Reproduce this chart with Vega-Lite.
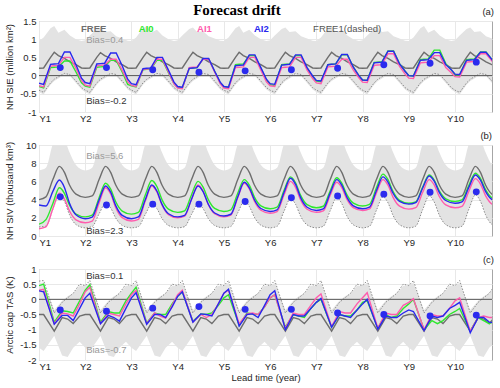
{
  "$schema": "https://vega.github.io/schema/vega-lite/v6.json",
  "padding": {"left": 3, "top": 3, "right": 0, "bottom": 0},
  "title": {"text": "Forecast drift", "font": "Liberation Serif", "fontSize": 15, "fontWeight": "bold", "color": "#000000", "anchor": "middle", "dx": -12, "offset": -12},
  "config": {
    "font": "Liberation Sans",
    "view": {"stroke": "#a6a6a6", "strokeWidth": 1},
    "axis": {"labelFont": "Liberation Sans", "labelFontSize": 9.5, "labelColor": "#262626", "titleFont": "Liberation Sans", "titleFontSize": 9.5, "titleFontWeight": "normal", "titleColor": "#262626", "ticks": false, "domain": false, "gridColor": "#e8e8e8", "labelPadding": 3},
    "axisX": {"labelPadding": 1}
  },
  "datasets": {
    "A": [
      {"t":0,"FREE":0.2,"AI0":-0.3,"AI1":-0.28,"AI2":-0.21,"lo":-0.45,"hi":0.95,"d":-0.4},
      {"t":0.1,"FREE":0.21,"AI0":-0.34,"AI1":-0.31,"AI2":-0.24,"lo":-0.52,"hi":1.05,"d":-0.46},
      {"t":0.25,"FREE":0.5,"AI0":0.22,"AI1":0.26,"AI2":0.31,"lo":-0.25,"hi":1.3,"d":-0.2},
      {"t":0.33,"FREE":0.64,"AI0":0.23,"AI1":0.27,"AI2":0.32,"lo":-0.15,"hi":1.36,"d":-0.1},
      {"t":0.42,"FREE":0.55,"AI0":0.24,"AI1":0.28,"AI2":0.33,"lo":-0.08,"hi":1.18,"d":-0.03},
      {"t":0.55,"FREE":0.47,"AI0":0.4,"AI1":0.5,"AI2":0.65,"lo":0.02,"hi":1.26,"d":0.06},
      {"t":0.67,"FREE":0.38,"AI0":0.4,"AI1":0.5,"AI2":0.65,"lo":-0.02,"hi":1.1,"d":0.03},
      {"t":0.8,"FREE":0.3,"AI0":0.1,"AI1":0.2,"AI2":0.3,"lo":-0.2,"hi":1.0,"d":-0.15},
      {"t":0.92,"FREE":0.21,"AI0":-0.2,"AI1":-0.14,"AI2":-0.07,"lo":-0.38,"hi":0.95,"d":-0.33},
      {"t":1,"FREE":0.2,"AI0":-0.29,"AI1":-0.26,"AI2":-0.19,"lo":-0.45,"hi":0.97,"d":-0.4},
      {"t":1.1,"FREE":0.21,"AI0":-0.32,"AI1":-0.29,"AI2":-0.22,"lo":-0.52,"hi":1.1,"d":-0.46},
      {"t":1.25,"FREE":0.5,"AI0":0.23,"AI1":0.27,"AI2":0.32,"lo":-0.25,"hi":1.28,"d":-0.2},
      {"t":1.33,"FREE":0.63,"AI0":0.24,"AI1":0.28,"AI2":0.33,"lo":-0.15,"hi":1.32,"d":-0.1},
      {"t":1.42,"FREE":0.55,"AI0":0.25,"AI1":0.29,"AI2":0.34,"lo":-0.08,"hi":1.2,"d":-0.03},
      {"t":1.55,"FREE":0.47,"AI0":0.42,"AI1":0.45,"AI2":0.62,"lo":0.02,"hi":1.22,"d":0.06},
      {"t":1.67,"FREE":0.38,"AI0":0.42,"AI1":0.45,"AI2":0.62,"lo":-0.02,"hi":1.08,"d":0.03},
      {"t":1.8,"FREE":0.3,"AI0":0.1,"AI1":0.15,"AI2":0.27,"lo":-0.2,"hi":1.02,"d":-0.15},
      {"t":1.92,"FREE":0.21,"AI0":-0.24,"AI1":-0.17,"AI2":-0.1,"lo":-0.38,"hi":0.96,"d":-0.33},
      {"t":2,"FREE":0.2,"AI0":-0.28,"AI1":-0.27,"AI2":-0.22,"lo":-0.45,"hi":0.95,"d":-0.4},
      {"t":2.1,"FREE":0.21,"AI0":-0.31,"AI1":-0.3,"AI2":-0.25,"lo":-0.52,"hi":1.05,"d":-0.46},
      {"t":2.25,"FREE":0.5,"AI0":0.16,"AI1":0.17,"AI2":0.19,"lo":-0.25,"hi":1.3,"d":-0.2},
      {"t":2.33,"FREE":0.64,"AI0":0.17,"AI1":0.18,"AI2":0.2,"lo":-0.15,"hi":1.36,"d":-0.1},
      {"t":2.42,"FREE":0.55,"AI0":0.18,"AI1":0.19,"AI2":0.21,"lo":-0.08,"hi":1.18,"d":-0.03},
      {"t":2.55,"FREE":0.47,"AI0":0.42,"AI1":0.45,"AI2":0.5,"lo":0.02,"hi":1.26,"d":0.06},
      {"t":2.67,"FREE":0.38,"AI0":0.42,"AI1":0.45,"AI2":0.5,"lo":-0.02,"hi":1.1,"d":0.03},
      {"t":2.8,"FREE":0.3,"AI0":0.08,"AI1":0.1,"AI2":0.15,"lo":-0.2,"hi":1.0,"d":-0.15},
      {"t":2.92,"FREE":0.21,"AI0":-0.22,"AI1":-0.23,"AI2":-0.18,"lo":-0.38,"hi":0.95,"d":-0.33},
      {"t":3,"FREE":0.2,"AI0":-0.32,"AI1":-0.34,"AI2":-0.3,"lo":-0.45,"hi":0.97,"d":-0.4},
      {"t":3.1,"FREE":0.21,"AI0":-0.34,"AI1":-0.36,"AI2":-0.32,"lo":-0.52,"hi":1.1,"d":-0.46},
      {"t":3.25,"FREE":0.5,"AI0":0.2,"AI1":0.22,"AI2":0.2,"lo":-0.25,"hi":1.28,"d":-0.2},
      {"t":3.33,"FREE":0.64,"AI0":0.21,"AI1":0.23,"AI2":0.21,"lo":-0.15,"hi":1.32,"d":-0.1},
      {"t":3.42,"FREE":0.55,"AI0":0.22,"AI1":0.24,"AI2":0.22,"lo":-0.08,"hi":1.2,"d":-0.03},
      {"t":3.55,"FREE":0.47,"AI0":0.46,"AI1":0.45,"AI2":0.47,"lo":0.02,"hi":1.22,"d":0.06},
      {"t":3.67,"FREE":0.38,"AI0":0.46,"AI1":0.45,"AI2":0.47,"lo":-0.02,"hi":1.08,"d":0.03},
      {"t":3.8,"FREE":0.3,"AI0":0.12,"AI1":0.1,"AI2":0.12,"lo":-0.2,"hi":1.02,"d":-0.15},
      {"t":3.92,"FREE":0.21,"AI0":-0.2,"AI1":-0.22,"AI2":-0.18,"lo":-0.38,"hi":0.96,"d":-0.33},
      {"t":4,"FREE":0.2,"AI0":-0.3,"AI1":-0.34,"AI2":-0.3,"lo":-0.45,"hi":0.95,"d":-0.4},
      {"t":4.1,"FREE":0.21,"AI0":-0.32,"AI1":-0.36,"AI2":-0.32,"lo":-0.52,"hi":1.05,"d":-0.46},
      {"t":4.25,"FREE":0.5,"AI0":0.3,"AI1":0.22,"AI2":0.27,"lo":-0.25,"hi":1.3,"d":-0.2},
      {"t":4.33,"FREE":0.64,"AI0":0.31,"AI1":0.23,"AI2":0.28,"lo":-0.15,"hi":1.36,"d":-0.1},
      {"t":4.42,"FREE":0.55,"AI0":0.32,"AI1":0.24,"AI2":0.29,"lo":-0.08,"hi":1.18,"d":-0.03},
      {"t":4.55,"FREE":0.47,"AI0":0.55,"AI1":0.5,"AI2":0.57,"lo":0.02,"hi":1.26,"d":0.06},
      {"t":4.67,"FREE":0.38,"AI0":0.55,"AI1":0.5,"AI2":0.57,"lo":-0.02,"hi":1.1,"d":0.03},
      {"t":4.8,"FREE":0.3,"AI0":0.2,"AI1":0.15,"AI2":0.22,"lo":-0.2,"hi":1.0,"d":-0.15},
      {"t":4.92,"FREE":0.21,"AI0":-0.12,"AI1":-0.17,"AI2":-0.1,"lo":-0.38,"hi":0.95,"d":-0.33},
      {"t":5,"FREE":0.2,"AI0":-0.25,"AI1":-0.28,"AI2":-0.22,"lo":-0.45,"hi":0.97,"d":-0.4},
      {"t":5.1,"FREE":0.21,"AI0":-0.27,"AI1":-0.3,"AI2":-0.24,"lo":-0.52,"hi":1.1,"d":-0.46},
      {"t":5.25,"FREE":0.5,"AI0":0.3,"AI1":0.22,"AI2":0.29,"lo":-0.25,"hi":1.28,"d":-0.2},
      {"t":5.33,"FREE":0.64,"AI0":0.31,"AI1":0.23,"AI2":0.3,"lo":-0.15,"hi":1.32,"d":-0.1},
      {"t":5.42,"FREE":0.55,"AI0":0.32,"AI1":0.24,"AI2":0.31,"lo":-0.08,"hi":1.2,"d":-0.03},
      {"t":5.55,"FREE":0.47,"AI0":0.55,"AI1":0.5,"AI2":0.57,"lo":0.02,"hi":1.22,"d":0.06},
      {"t":5.67,"FREE":0.38,"AI0":0.55,"AI1":0.5,"AI2":0.57,"lo":-0.02,"hi":1.08,"d":0.03},
      {"t":5.8,"FREE":0.3,"AI0":0.2,"AI1":0.15,"AI2":0.22,"lo":-0.2,"hi":1.02,"d":-0.15},
      {"t":5.92,"FREE":0.21,"AI0":-0.03,"AI1":-0.08,"AI2":-0.01,"lo":-0.38,"hi":0.96,"d":-0.33},
      {"t":6,"FREE":0.2,"AI0":-0.15,"AI1":-0.2,"AI2":-0.13,"lo":-0.45,"hi":0.95,"d":-0.4},
      {"t":6.1,"FREE":0.21,"AI0":-0.17,"AI1":-0.22,"AI2":-0.15,"lo":-0.52,"hi":1.05,"d":-0.46},
      {"t":6.25,"FREE":0.5,"AI0":0.3,"AI1":0.24,"AI2":0.3,"lo":-0.25,"hi":1.3,"d":-0.2},
      {"t":6.33,"FREE":0.64,"AI0":0.31,"AI1":0.25,"AI2":0.31,"lo":-0.15,"hi":1.36,"d":-0.1},
      {"t":6.42,"FREE":0.55,"AI0":0.32,"AI1":0.26,"AI2":0.32,"lo":-0.08,"hi":1.18,"d":-0.03},
      {"t":6.55,"FREE":0.47,"AI0":0.57,"AI1":0.45,"AI2":0.58,"lo":0.02,"hi":1.26,"d":0.06},
      {"t":6.67,"FREE":0.38,"AI0":0.57,"AI1":0.45,"AI2":0.58,"lo":-0.02,"hi":1.1,"d":0.03},
      {"t":6.8,"FREE":0.3,"AI0":0.23,"AI1":0.15,"AI2":0.23,"lo":-0.2,"hi":1.0,"d":-0.15},
      {"t":6.92,"FREE":0.21,"AI0":0.0,"AI1":-0.06,"AI2":0.0,"lo":-0.38,"hi":0.95,"d":-0.33},
      {"t":7,"FREE":0.2,"AI0":-0.12,"AI1":-0.18,"AI2":-0.12,"lo":-0.45,"hi":0.97,"d":-0.4},
      {"t":7.1,"FREE":0.21,"AI0":-0.13,"AI1":-0.19,"AI2":-0.13,"lo":-0.52,"hi":1.1,"d":-0.46},
      {"t":7.25,"FREE":0.5,"AI0":0.36,"AI1":0.28,"AI2":0.35,"lo":-0.25,"hi":1.28,"d":-0.2},
      {"t":7.33,"FREE":0.64,"AI0":0.37,"AI1":0.29,"AI2":0.36,"lo":-0.15,"hi":1.32,"d":-0.1},
      {"t":7.42,"FREE":0.55,"AI0":0.38,"AI1":0.3,"AI2":0.37,"lo":-0.08,"hi":1.2,"d":-0.03},
      {"t":7.55,"FREE":0.47,"AI0":0.68,"AI1":0.6,"AI2":0.67,"lo":0.02,"hi":1.22,"d":0.06},
      {"t":7.67,"FREE":0.38,"AI0":0.68,"AI1":0.6,"AI2":0.67,"lo":-0.02,"hi":1.08,"d":0.03},
      {"t":7.8,"FREE":0.3,"AI0":0.33,"AI1":0.25,"AI2":0.32,"lo":-0.2,"hi":1.02,"d":-0.15},
      {"t":7.92,"FREE":0.21,"AI0":0.12,"AI1":0.04,"AI2":0.12,"lo":-0.38,"hi":0.96,"d":-0.33},
      {"t":8,"FREE":0.2,"AI0":0.0,"AI1":-0.07,"AI2":0.0,"lo":-0.45,"hi":0.95,"d":-0.4},
      {"t":8.1,"FREE":0.21,"AI0":-0.01,"AI1":-0.08,"AI2":-0.01,"lo":-0.52,"hi":1.05,"d":-0.46},
      {"t":8.25,"FREE":0.5,"AI0":0.44,"AI1":0.35,"AI2":0.42,"lo":-0.25,"hi":1.3,"d":-0.2},
      {"t":8.33,"FREE":0.64,"AI0":0.45,"AI1":0.36,"AI2":0.43,"lo":-0.15,"hi":1.36,"d":-0.1},
      {"t":8.42,"FREE":0.55,"AI0":0.46,"AI1":0.37,"AI2":0.44,"lo":-0.08,"hi":1.18,"d":-0.03},
      {"t":8.55,"FREE":0.47,"AI0":0.7,"AI1":0.55,"AI2":0.63,"lo":0.02,"hi":1.26,"d":0.06},
      {"t":8.67,"FREE":0.38,"AI0":0.7,"AI1":0.55,"AI2":0.63,"lo":-0.02,"hi":1.1,"d":0.03},
      {"t":8.8,"FREE":0.3,"AI0":0.33,"AI1":0.22,"AI2":0.3,"lo":-0.2,"hi":1.0,"d":-0.15},
      {"t":8.92,"FREE":0.21,"AI0":0.15,"AI1":0.08,"AI2":0.16,"lo":-0.38,"hi":0.95,"d":-0.33},
      {"t":9,"FREE":0.2,"AI0":0.03,"AI1":-0.03,"AI2":0.04,"lo":-0.45,"hi":0.97,"d":-0.4},
      {"t":9.1,"FREE":0.21,"AI0":0.02,"AI1":-0.04,"AI2":0.03,"lo":-0.52,"hi":1.1,"d":-0.46},
      {"t":9.25,"FREE":0.5,"AI0":0.44,"AI1":0.37,"AI2":0.42,"lo":-0.25,"hi":1.28,"d":-0.2},
      {"t":9.33,"FREE":0.64,"AI0":0.45,"AI1":0.38,"AI2":0.43,"lo":-0.15,"hi":1.32,"d":-0.1},
      {"t":9.42,"FREE":0.55,"AI0":0.46,"AI1":0.39,"AI2":0.44,"lo":-0.08,"hi":1.2,"d":-0.03},
      {"t":9.55,"FREE":0.47,"AI0":0.65,"AI1":0.6,"AI2":0.64,"lo":0.02,"hi":1.22,"d":0.06},
      {"t":9.67,"FREE":0.38,"AI0":0.65,"AI1":0.6,"AI2":0.64,"lo":-0.02,"hi":1.08,"d":0.03},
      {"t":9.8,"FREE":0.3,"AI0":0.44,"AI1":0.4,"AI2":0.44,"lo":-0.2,"hi":1.02,"d":-0.15},
      {"t":9.92,"FREE":0.21,"AI0":0.2,"AI1":0.15,"AI2":0.2,"lo":-0.38,"hi":0.96,"d":-0.33}
    ],
    "B": [
      {"t":0,"FREE":4.0,"AI0":1.3,"AI1":0.8,"AI2":3.4,"d":1.0,"hi":7.2},
      {"t":0.15,"FREE":4.3,"AI0":1.8,"AI1":1.0,"AI2":3.3,"d":1.08,"hi":7.5},
      {"t":0.3,"FREE":6.2,"AI0":3.58,"AI1":3.0,"AI2":4.9,"d":2.95,"hi":10.1},
      {"t":0.44,"FREE":7.65,"AI0":5.3,"AI1":4.7,"AI2":6.15,"d":4.5,"hi":11},
      {"t":0.55,"FREE":7.0,"AI0":4.69,"AI1":4.08,"AI2":5.34,"d":3.82,"hi":10.6},
      {"t":0.66,"FREE":5.6,"AI0":3.38,"AI1":2.75,"AI2":3.6,"d":2.34,"hi":9.2},
      {"t":0.8,"FREE":4.6,"AI0":2.42,"AI1":1.78,"AI2":2.33,"d":1.26,"hi":7.8},
      {"t":1,"FREE":4.25,"AI0":2.1,"AI1":1.45,"AI2":1.9,"d":0.9,"hi":7.2},
      {"t":1.15,"FREE":4.4,"AI0":2.29,"AI1":1.64,"AI2":2.08,"d":1.04,"hi":7.5},
      {"t":1.3,"FREE":6.2,"AI0":4.21,"AI1":3.64,"AI2":3.95,"d":2.44,"hi":10.1},
      {"t":1.44,"FREE":7.65,"AI0":5.8,"AI1":5.3,"AI2":5.5,"d":3.6,"hi":11},
      {"t":1.55,"FREE":7.0,"AI0":5.15,"AI1":4.61,"AI2":4.82,"d":3.09,"hi":10.6},
      {"t":1.66,"FREE":5.6,"AI0":3.76,"AI1":3.11,"AI2":3.34,"d":1.98,"hi":9.2},
      {"t":1.8,"FREE":4.6,"AI0":2.74,"AI1":2.02,"AI2":2.26,"d":1.17,"hi":7.8},
      {"t":2,"FREE":4.25,"AI0":2.4,"AI1":1.65,"AI2":1.9,"d":0.9,"hi":7.2},
      {"t":2.15,"FREE":4.4,"AI0":2.59,"AI1":1.84,"AI2":2.09,"d":1.03,"hi":7.5},
      {"t":2.3,"FREE":6.2,"AI0":4.51,"AI1":3.84,"AI2":4.01,"d":2.38,"hi":10.1},
      {"t":2.44,"FREE":7.65,"AI0":6.1,"AI1":5.5,"AI2":5.6,"d":3.5,"hi":11},
      {"t":2.55,"FREE":7.0,"AI0":5.44,"AI1":4.84,"AI2":4.94,"d":3.01,"hi":10.6},
      {"t":2.66,"FREE":5.6,"AI0":4.0,"AI1":3.4,"AI2":3.5,"d":1.94,"hi":9.2},
      {"t":2.8,"FREE":4.6,"AI0":2.95,"AI1":2.35,"AI2":2.45,"d":1.16,"hi":7.8},
      {"t":3,"FREE":4.25,"AI0":2.6,"AI1":2.0,"AI2":2.1,"d":0.9,"hi":7.2},
      {"t":3.15,"FREE":4.4,"AI0":2.77,"AI1":2.18,"AI2":2.27,"d":1.03,"hi":7.5},
      {"t":3.3,"FREE":6.2,"AI0":4.54,"AI1":4.05,"AI2":4.04,"d":2.38,"hi":10.1},
      {"t":3.44,"FREE":7.65,"AI0":6.0,"AI1":5.6,"AI2":5.5,"d":3.5,"hi":11},
      {"t":3.55,"FREE":7.0,"AI0":5.37,"AI1":4.94,"AI2":4.87,"d":3.01,"hi":10.6},
      {"t":3.66,"FREE":5.6,"AI0":4.02,"AI1":3.5,"AI2":3.52,"d":1.94,"hi":9.2},
      {"t":3.8,"FREE":4.6,"AI0":3.03,"AI1":2.45,"AI2":2.53,"d":1.16,"hi":7.8},
      {"t":4,"FREE":4.25,"AI0":2.7,"AI1":2.1,"AI2":2.2,"d":0.9,"hi":7.2},
      {"t":4.15,"FREE":4.4,"AI0":2.88,"AI1":2.29,"AI2":2.39,"d":1.05,"hi":7.5},
      {"t":4.3,"FREE":6.2,"AI0":4.7,"AI1":4.21,"AI2":4.31,"d":2.55,"hi":10.1},
      {"t":4.44,"FREE":7.65,"AI0":6.2,"AI1":5.8,"AI2":5.9,"d":3.8,"hi":11},
      {"t":4.55,"FREE":7.0,"AI0":5.59,"AI1":5.17,"AI2":5.29,"d":3.25,"hi":10.6},
      {"t":4.66,"FREE":5.6,"AI0":4.28,"AI1":3.82,"AI2":3.98,"d":2.06,"hi":9.2},
      {"t":4.8,"FREE":4.6,"AI0":3.32,"AI1":2.83,"AI2":3.02,"d":1.19,"hi":7.8},
      {"t":5,"FREE":4.25,"AI0":3.0,"AI1":2.5,"AI2":2.7,"d":0.9,"hi":7.2},
      {"t":5.15,"FREE":4.4,"AI0":3.18,"AI1":2.68,"AI2":2.88,"d":1.06,"hi":7.5},
      {"t":5.3,"FREE":6.2,"AI0":5.0,"AI1":4.5,"AI2":4.78,"d":2.72,"hi":10.1},
      {"t":5.44,"FREE":7.65,"AI0":6.5,"AI1":6.0,"AI2":6.35,"d":4.1,"hi":11},
      {"t":5.55,"FREE":7.0,"AI0":5.85,"AI1":5.35,"AI2":5.68,"d":3.49,"hi":10.6},
      {"t":5.66,"FREE":5.6,"AI0":4.46,"AI1":3.96,"AI2":4.22,"d":2.18,"hi":9.2},
      {"t":5.8,"FREE":4.6,"AI0":3.44,"AI1":2.94,"AI2":3.16,"d":1.22,"hi":7.8},
      {"t":6,"FREE":4.25,"AI0":3.1,"AI1":2.6,"AI2":2.8,"d":0.9,"hi":7.2},
      {"t":6.15,"FREE":4.4,"AI0":3.27,"AI1":2.77,"AI2":2.97,"d":1.07,"hi":7.5},
      {"t":6.3,"FREE":6.2,"AI0":4.98,"AI1":4.48,"AI2":4.74,"d":2.78,"hi":10.1},
      {"t":6.44,"FREE":7.65,"AI0":6.4,"AI1":5.9,"AI2":6.2,"d":4.2,"hi":11},
      {"t":6.55,"FREE":7.0,"AI0":5.81,"AI1":5.31,"AI2":5.59,"d":3.57,"hi":10.6},
      {"t":6.66,"FREE":5.6,"AI0":4.54,"AI1":4.04,"AI2":4.28,"d":2.22,"hi":9.2},
      {"t":6.8,"FREE":4.6,"AI0":3.61,"AI1":3.11,"AI2":3.32,"d":1.23,"hi":7.8},
      {"t":7,"FREE":4.25,"AI0":3.3,"AI1":2.8,"AI2":3.0,"d":0.9,"hi":7.2},
      {"t":7.15,"FREE":4.4,"AI0":3.48,"AI1":2.97,"AI2":3.18,"d":1.07,"hi":7.5},
      {"t":7.3,"FREE":6.2,"AI0":5.3,"AI1":4.74,"AI2":5.0,"d":2.84,"hi":10.1},
      {"t":7.44,"FREE":7.65,"AI0":6.8,"AI1":6.2,"AI2":6.5,"d":4.3,"hi":11},
      {"t":7.55,"FREE":7.0,"AI0":6.19,"AI1":5.58,"AI2":5.93,"d":3.65,"hi":10.6},
      {"t":7.66,"FREE":5.6,"AI0":4.88,"AI1":4.25,"AI2":4.7,"d":2.26,"hi":9.2},
      {"t":7.8,"FREE":4.6,"AI0":3.92,"AI1":3.28,"AI2":3.8,"d":1.24,"hi":7.8},
      {"t":8,"FREE":4.25,"AI0":3.6,"AI1":2.95,"AI2":3.5,"d":0.9,"hi":7.2},
      {"t":8.15,"FREE":4.4,"AI0":3.76,"AI1":3.11,"AI2":3.66,"d":1.08,"hi":7.5},
      {"t":8.3,"FREE":6.2,"AI0":5.37,"AI1":4.8,"AI2":5.27,"d":2.9,"hi":10.1},
      {"t":8.44,"FREE":7.65,"AI0":6.7,"AI1":6.2,"AI2":6.6,"d":4.4,"hi":11},
      {"t":8.55,"FREE":7.0,"AI0":6.15,"AI1":5.61,"AI2":6.03,"d":3.74,"hi":10.6},
      {"t":8.66,"FREE":5.6,"AI0":4.96,"AI1":4.34,"AI2":4.8,"d":2.3,"hi":9.2},
      {"t":8.8,"FREE":4.6,"AI0":4.09,"AI1":3.41,"AI2":3.9,"d":1.25,"hi":7.8},
      {"t":9,"FREE":4.25,"AI0":3.8,"AI1":3.1,"AI2":3.6,"d":0.9,"hi":7.2},
      {"t":9.15,"FREE":4.4,"AI0":3.96,"AI1":3.26,"AI2":3.76,"d":1.08,"hi":7.5},
      {"t":9.3,"FREE":6.2,"AI0":5.57,"AI1":4.92,"AI2":5.37,"d":2.95,"hi":10.1},
      {"t":9.44,"FREE":7.65,"AI0":6.9,"AI1":6.3,"AI2":6.7,"d":4.5,"hi":11},
      {"t":9.55,"FREE":7.0,"AI0":6.33,"AI1":5.71,"AI2":6.13,"d":3.82,"hi":10.6},
      {"t":9.66,"FREE":5.6,"AI0":5.1,"AI1":4.44,"AI2":4.9,"d":2.34,"hi":9.2},
      {"t":9.8,"FREE":4.6,"AI0":4.2,"AI1":3.51,"AI2":4.0,"d":1.26,"hi":7.8},
      {"t":10,"FREE":4.25,"AI0":3.9,"AI1":3.2,"AI2":3.7,"d":0.9,"hi":7.2}
    ],
    "C": [
      {"t":0,"FREE":-0.5,"AI0":0.45,"AI1":0.3,"AI2":0.28,"d":0.6,"hi":0.55,"lo":-1.6},
      {"t":0.1,"FREE":-0.5,"AI0":0.5,"AI1":0.33,"AI2":0.25,"d":0.62,"hi":0.55,"lo":-1.7},
      {"t":0.33,"FREE":-1.05,"AI0":-0.75,"AI1":-0.8,"AI2":-0.82,"d":-0.45,"hi":-0.35,"lo":-1.2},
      {"t":0.5,"FREE":-0.6,"AI0":-0.38,"AI1":-0.45,"AI2":-0.53,"d":-0.1,"hi":-0.05,"lo":-1.85},
      {"t":0.62,"FREE":-0.65,"AI0":-0.4,"AI1":-0.48,"AI2":-0.53,"d":0.05,"hi":0.1,"lo":-1.9},
      {"t":0.74,"FREE":-0.8,"AI0":-0.45,"AI1":-0.55,"AI2":-0.7,"d":0.2,"hi":0.2,"lo":-1.6},
      {"t":0.88,"FREE":-0.55,"AI0":-0.05,"AI1":-0.15,"AI2":-0.3,"d":0.5,"hi":0.45,"lo":-1.4},
      {"t":1,"FREE":-0.5,"AI0":0.3,"AI1":0.25,"AI2":0.05,"d":0.45,"hi":0.45,"lo":-1.6},
      {"t":1.1,"FREE":-0.5,"AI0":0.48,"AI1":0.4,"AI2":0.2,"d":0.62,"hi":0.55,"lo":-1.7},
      {"t":1.33,"FREE":-1.05,"AI0":-0.75,"AI1":-0.8,"AI2":-0.8,"d":-0.45,"hi":-0.35,"lo":-1.2},
      {"t":1.5,"FREE":-0.6,"AI0":-0.4,"AI1":-0.45,"AI2":-0.53,"d":-0.1,"hi":-0.05,"lo":-1.85},
      {"t":1.62,"FREE":-0.65,"AI0":-0.45,"AI1":-0.5,"AI2":-0.6,"d":0.05,"hi":0.1,"lo":-1.9},
      {"t":1.74,"FREE":-0.8,"AI0":-0.45,"AI1":-0.55,"AI2":-0.72,"d":0.2,"hi":0.2,"lo":-1.6},
      {"t":1.88,"FREE":-0.55,"AI0":-0.05,"AI1":-0.15,"AI2":-0.3,"d":0.5,"hi":0.45,"lo":-1.4},
      {"t":2,"FREE":-0.5,"AI0":0.2,"AI1":0.15,"AI2":0.05,"d":0.45,"hi":0.45,"lo":-1.6},
      {"t":2.1,"FREE":-0.5,"AI0":0.4,"AI1":0.3,"AI2":0.22,"d":0.62,"hi":0.55,"lo":-1.7},
      {"t":2.33,"FREE":-1.05,"AI0":-0.78,"AI1":-0.8,"AI2":-0.82,"d":-0.45,"hi":-0.35,"lo":-1.2},
      {"t":2.5,"FREE":-0.6,"AI0":-0.45,"AI1":-0.45,"AI2":-0.5,"d":-0.1,"hi":-0.05,"lo":-1.85},
      {"t":2.62,"FREE":-0.65,"AI0":-0.5,"AI1":-0.55,"AI2":-0.5,"d":0.05,"hi":0.1,"lo":-1.9},
      {"t":2.74,"FREE":-0.8,"AI0":-0.5,"AI1":-0.62,"AI2":-0.6,"d":0.2,"hi":0.2,"lo":-1.6},
      {"t":2.88,"FREE":-0.55,"AI0":-0.15,"AI1":-0.2,"AI2":-0.25,"d":0.5,"hi":0.45,"lo":-1.4},
      {"t":3,"FREE":-0.5,"AI0":0.1,"AI1":0.15,"AI2":0.1,"d":0.45,"hi":0.45,"lo":-1.6},
      {"t":3.1,"FREE":-0.5,"AI0":0.25,"AI1":0.3,"AI2":0.25,"d":0.62,"hi":0.55,"lo":-1.7},
      {"t":3.33,"FREE":-1.05,"AI0":-0.72,"AI1":-0.75,"AI2":-0.75,"d":-0.45,"hi":-0.35,"lo":-1.2},
      {"t":3.5,"FREE":-0.6,"AI0":-0.48,"AI1":-0.5,"AI2":-0.48,"d":-0.1,"hi":-0.05,"lo":-1.85},
      {"t":3.62,"FREE":-0.65,"AI0":-0.5,"AI1":-0.6,"AI2":-0.5,"d":0.05,"hi":0.1,"lo":-1.9},
      {"t":3.74,"FREE":-0.8,"AI0":-0.45,"AI1":-0.5,"AI2":-0.55,"d":0.2,"hi":0.2,"lo":-1.6},
      {"t":3.88,"FREE":-0.55,"AI0":-0.2,"AI1":-0.15,"AI2":-0.15,"d":0.5,"hi":0.45,"lo":-1.4},
      {"t":4,"FREE":-0.5,"AI0":0.05,"AI1":0.2,"AI2":0.2,"d":0.45,"hi":0.45,"lo":-1.6},
      {"t":4.1,"FREE":-0.5,"AI0":0.15,"AI1":0.3,"AI2":0.33,"d":0.62,"hi":0.55,"lo":-1.7},
      {"t":4.33,"FREE":-1.05,"AI0":-0.85,"AI1":-0.8,"AI2":-0.88,"d":-0.45,"hi":-0.35,"lo":-1.2},
      {"t":4.5,"FREE":-0.6,"AI0":-0.45,"AI1":-0.48,"AI2":-0.5,"d":-0.1,"hi":-0.05,"lo":-1.85},
      {"t":4.62,"FREE":-0.65,"AI0":-0.48,"AI1":-0.45,"AI2":-0.48,"d":0.05,"hi":0.1,"lo":-1.9},
      {"t":4.74,"FREE":-0.8,"AI0":-0.5,"AI1":-0.5,"AI2":-0.6,"d":0.2,"hi":0.2,"lo":-1.6},
      {"t":4.88,"FREE":-0.55,"AI0":-0.25,"AI1":-0.25,"AI2":-0.2,"d":0.5,"hi":0.45,"lo":-1.4},
      {"t":5,"FREE":-0.5,"AI0":0.05,"AI1":0.05,"AI2":0.15,"d":0.45,"hi":0.45,"lo":-1.6},
      {"t":5.1,"FREE":-0.5,"AI0":0.15,"AI1":0.15,"AI2":0.28,"d":0.62,"hi":0.55,"lo":-1.7},
      {"t":5.33,"FREE":-1.05,"AI0":-0.92,"AI1":-0.95,"AI2":-1.0,"d":-0.45,"hi":-0.35,"lo":-1.2},
      {"t":5.5,"FREE":-0.6,"AI0":-0.5,"AI1":-0.45,"AI2":-0.5,"d":-0.1,"hi":-0.05,"lo":-1.85},
      {"t":5.62,"FREE":-0.65,"AI0":-0.55,"AI1":-0.5,"AI2":-0.55,"d":0.05,"hi":0.1,"lo":-1.9},
      {"t":5.74,"FREE":-0.8,"AI0":-0.6,"AI1":-0.5,"AI2":-0.55,"d":0.2,"hi":0.2,"lo":-1.6},
      {"t":5.88,"FREE":-0.55,"AI0":-0.3,"AI1":-0.2,"AI2":-0.3,"d":0.5,"hi":0.45,"lo":-1.4},
      {"t":6,"FREE":-0.5,"AI0":-0.1,"AI1":0.05,"AI2":-0.1,"d":0.45,"hi":0.45,"lo":-1.6},
      {"t":6.1,"FREE":-0.5,"AI0":0.0,"AI1":0.18,"AI2":0.03,"d":0.62,"hi":0.55,"lo":-1.7},
      {"t":6.33,"FREE":-1.05,"AI0":-0.92,"AI1":-0.9,"AI2":-0.92,"d":-0.45,"hi":-0.35,"lo":-1.2},
      {"t":6.5,"FREE":-0.6,"AI0":-0.5,"AI1":-0.4,"AI2":-0.5,"d":-0.1,"hi":-0.05,"lo":-1.85},
      {"t":6.62,"FREE":-0.65,"AI0":-0.55,"AI1":-0.45,"AI2":-0.55,"d":0.05,"hi":0.1,"lo":-1.9},
      {"t":6.74,"FREE":-0.8,"AI0":-0.55,"AI1":-0.45,"AI2":-0.6,"d":0.2,"hi":0.2,"lo":-1.6},
      {"t":6.88,"FREE":-0.55,"AI0":-0.35,"AI1":-0.15,"AI2":-0.35,"d":0.5,"hi":0.45,"lo":-1.4},
      {"t":7,"FREE":-0.5,"AI0":-0.1,"AI1":0.05,"AI2":-0.15,"d":0.45,"hi":0.45,"lo":-1.6},
      {"t":7.1,"FREE":-0.5,"AI0":-0.05,"AI1":0.22,"AI2":0.0,"d":0.62,"hi":0.55,"lo":-1.7},
      {"t":7.33,"FREE":-1.05,"AI0":-0.95,"AI1":-0.95,"AI2":-0.98,"d":-0.45,"hi":-0.35,"lo":-1.2},
      {"t":7.5,"FREE":-0.6,"AI0":-0.5,"AI1":-0.45,"AI2":-0.55,"d":-0.1,"hi":-0.05,"lo":-1.85},
      {"t":7.62,"FREE":-0.65,"AI0":-0.6,"AI1":-0.5,"AI2":-0.6,"d":0.05,"hi":0.1,"lo":-1.9},
      {"t":7.74,"FREE":-0.8,"AI0":-0.55,"AI1":-0.5,"AI2":-0.6,"d":0.2,"hi":0.2,"lo":-1.6},
      {"t":7.88,"FREE":-0.55,"AI0":-0.3,"AI1":-0.2,"AI2":-0.45,"d":0.5,"hi":0.45,"lo":-1.4},
      {"t":8,"FREE":-0.5,"AI0":-0.15,"AI1":-0.1,"AI2":-0.35,"d":0.45,"hi":0.45,"lo":-1.6},
      {"t":8.1,"FREE":-0.5,"AI0":0.0,"AI1":0.02,"AI2":-0.4,"d":0.62,"hi":0.55,"lo":-1.7},
      {"t":8.33,"FREE":-1.05,"AI0":-1.0,"AI1":-1.0,"AI2":-1.03,"d":-0.45,"hi":-0.35,"lo":-1.2},
      {"t":8.5,"FREE":-0.6,"AI0":-0.7,"AI1":-0.5,"AI2":-0.55,"d":-0.1,"hi":-0.05,"lo":-1.85},
      {"t":8.62,"FREE":-0.65,"AI0":-0.8,"AI1":-0.55,"AI2":-0.6,"d":0.05,"hi":0.1,"lo":-1.9},
      {"t":8.74,"FREE":-0.8,"AI0":-0.7,"AI1":-0.55,"AI2":-0.55,"d":0.2,"hi":0.2,"lo":-1.6},
      {"t":8.88,"FREE":-0.55,"AI0":-0.5,"AI1":-0.3,"AI2":-0.3,"d":0.5,"hi":0.45,"lo":-1.4},
      {"t":9,"FREE":-0.5,"AI0":-0.4,"AI1":-0.05,"AI2":-0.2,"d":0.45,"hi":0.45,"lo":-1.6},
      {"t":9.1,"FREE":-0.5,"AI0":-0.3,"AI1":0.05,"AI2":-0.1,"d":0.62,"hi":0.55,"lo":-1.7},
      {"t":9.33,"FREE":-1.05,"AI0":-1.05,"AI1":-1.05,"AI2":-1.1,"d":-0.45,"hi":-0.35,"lo":-1.2},
      {"t":9.5,"FREE":-0.6,"AI0":-0.6,"AI1":-0.6,"AI2":-0.6,"d":-0.1,"hi":-0.05,"lo":-1.85},
      {"t":9.62,"FREE":-0.65,"AI0":-0.7,"AI1":-0.55,"AI2":-0.6,"d":0.05,"hi":0.1,"lo":-1.9},
      {"t":9.74,"FREE":-0.8,"AI0":-0.8,"AI1":-0.6,"AI2":-0.75,"d":0.2,"hi":0.2,"lo":-1.6},
      {"t":9.88,"FREE":-0.55,"AI0":-0.7,"AI1":-0.6,"AI2":-0.78,"d":0.5,"hi":0.45,"lo":-1.4}
    ]
  },
  "vconcat": [
    {
      "width": 453, "height": 91,
      "title": {"text": "(a)", "anchor": "end", "font": "Liberation Sans", "fontSize": 9.5, "fontWeight": "normal", "color": "#262626", "offset": 0},
      "encoding": {
        "x": {"field": "t", "type": "quantitative", "scale": {"domain": [0, 9.8], "nice": false, "zero": false}, "axis": {"values": [0,1,2,3,4,5,6,7,8,9], "labelExpr": "'Y' + (datum.value + 1)", "title": null, "grid": true}},
        "y": {"field": "v", "type": "quantitative", "title": "NH SIE (million km²)", "scale": {"domain": [-1, 1.5], "nice": false, "zero": false}, "axis": {"values": [-1,-0.5,0,0.5,1,1.5], "labelExpr": "datum.value + ''", "titleX": -30, "titleBaseline": "middle", "grid": true}}
      },
      "layer": [
        {"data": {"name": "A"}, "mark": {"type": "area", "color": "#e3e3e3", "clip": true}, "encoding": {"y": {"field": "lo", "type": "quantitative", "title": "NH SIE (million km²)"}, "y2": {"field": "hi"}}},
        {"data": {"name": "A"}, "mark": {"type": "line", "color": "#8a8a8a", "strokeWidth": 1, "strokeDash": [1.5, 1.5], "clip": true}, "encoding": {"y": {"field": "d", "type": "quantitative", "title": "NH SIE (million km²)"}}},
        {"data": {"values": [{"t": 0, "v": 0}, {"t": 9.8, "v": 0}]}, "mark": {"type": "line", "color": "#555555", "strokeWidth": 1}},
        {"data": {"name": "A"}, "transform": [{"fold": ["FREE", "AI0", "AI1", "AI2"], "as": ["s", "v"]}], "mark": {"type": "line", "strokeWidth": 1.4, "clip": true}, "encoding": {"color": {"field": "s", "type": "nominal", "scale": {"domain": ["FREE", "AI0", "AI1", "AI2", "FREE1(dashed)"], "range": ["#6e6e6e", "#2ee82e", "#ff5cad", "#2828ee", "#555555"]}, "legend": null}}},
        {"data": {"values": [{"t":0.46,"v":0.22},{"t":1.46,"v":0.22},{"t":2.46,"v":0.16},{"t":3.46,"v":0.09},{"t":4.46,"v":0.13},{"t":5.46,"v":0.16},{"t":6.46,"v":0.2},{"t":7.46,"v":0.3},{"t":8.46,"v":0.34},{"t":9.46,"v":0.37}]}, "mark": {"type": "circle", "size": 48, "color": "#2b2bee", "opacity": 1}},
        {"data": {"values": [{"t": 0.91, "v": 1.27, "s": "FREE"}, {"t": 2.16, "v": 1.27, "s": "AI0"}, {"t": 3.42, "v": 1.27, "s": "AI1"}, {"t": 4.65, "v": 1.27, "s": "AI2"}]}, "mark": {"type": "text", "align": "left", "baseline": "middle", "font": "Liberation Sans", "fontSize": 9.5, "fontWeight": "bold"}, "encoding": {"text": {"field": "s"}, "color": {"field": "s", "type": "nominal", "legend": null}}},
        {"data": {"values": [{"t": 5.93, "v": 1.27, "s": "FREE1(dashed)"}]}, "mark": {"type": "text", "align": "left", "baseline": "middle", "font": "Liberation Sans", "fontSize": 9.5}, "encoding": {"text": {"field": "s"}, "color": {"field": "s", "type": "nominal", "legend": null}}},
        {"data": {"values": [{"t": 1.02, "v": 0.99, "txt": "Bias=0.4"}]}, "mark": {"type": "text", "align": "left", "baseline": "middle", "font": "Liberation Sans", "fontSize": 9.5, "color": "#999999"}, "encoding": {"text": {"field": "txt"}}},
        {"data": {"values": [{"t": 1.02, "v": -0.69, "txt": "Bias=-0.2"}]}, "mark": {"type": "text", "align": "left", "baseline": "middle", "font": "Liberation Sans", "fontSize": 9.5, "color": "#333333"}, "encoding": {"text": {"field": "txt"}}}
      ]
    },
    {
      "width": 453, "height": 91,
      "title": {"text": "(b)", "anchor": "end", "font": "Liberation Sans", "fontSize": 9.5, "fontWeight": "normal", "color": "#262626", "offset": 0},
      "encoding": {
        "x": {"field": "t", "type": "quantitative", "scale": {"domain": [0, 9.8], "nice": false, "zero": false}, "axis": {"values": [0,1,2,3,4,5,6,7,8,9], "labelExpr": "'Y' + (datum.value + 1)", "title": null, "grid": true}},
        "y": {"field": "v", "type": "quantitative", "title": "NH SIV (thousand km³)", "scale": {"domain": [0, 10], "nice": false, "zero": false}, "axis": {"values": [0,2,4,6,8,10], "labelExpr": "datum.value + ''", "titleX": -30, "titleBaseline": "middle", "grid": true}}
      },
      "layer": [
        {"data": {"name": "B"}, "mark": {"type": "area", "color": "#e3e3e3", "clip": true, "interpolate": "monotone"}, "encoding": {"y": {"field": "d", "type": "quantitative", "title": "NH SIV (thousand km³)"}, "y2": {"field": "hi"}}},
        {"data": {"name": "B"}, "mark": {"type": "line", "color": "#8a8a8a", "strokeWidth": 1, "strokeDash": [1.5, 1.5], "clip": true, "interpolate": "monotone"}, "encoding": {"y": {"field": "d", "type": "quantitative", "title": "NH SIV (thousand km³)"}}},
        {"data": {"name": "B"}, "transform": [{"fold": ["FREE", "AI0", "AI1", "AI2"], "as": ["s", "v"]}], "mark": {"type": "line", "strokeWidth": 1.4, "clip": true, "interpolate": "monotone"}, "encoding": {"color": {"field": "s", "type": "nominal", "scale": {"domain": ["FREE", "AI0", "AI1", "AI2", "FREE1(dashed)"], "range": ["#6e6e6e", "#2ee82e", "#ff5cad", "#2828ee", "#555555"]}, "legend": null}}},
        {"data": {"values": [{"t":0.46,"v":4.3},{"t":1.46,"v":3.4},{"t":2.46,"v":3.5},{"t":3.46,"v":3.5},{"t":4.46,"v":3.8},{"t":5.46,"v":4.2},{"t":6.46,"v":4.4},{"t":7.46,"v":4.6},{"t":8.46,"v":4.8},{"t":9.46,"v":4.85}]}, "mark": {"type": "circle", "size": 48, "color": "#2b2bee", "opacity": 1}},
        {"data": {"values": [{"t": 1.02, "v": 8.8, "txt": "Bias=5.6"}]}, "mark": {"type": "text", "align": "left", "baseline": "middle", "font": "Liberation Sans", "fontSize": 9.5, "color": "#999999"}, "encoding": {"text": {"field": "txt"}}},
        {"data": {"values": [{"t": 1.02, "v": 0.5, "txt": "Bias=2.3"}]}, "mark": {"type": "text", "align": "left", "baseline": "middle", "font": "Liberation Sans", "fontSize": 9.5, "color": "#333333"}, "encoding": {"text": {"field": "txt"}}}
      ]
    },
    {
      "width": 453, "height": 91,
      "title": {"text": "(c)", "anchor": "end", "font": "Liberation Sans", "fontSize": 9.5, "fontWeight": "normal", "color": "#262626", "offset": 0},
      "encoding": {
        "x": {"field": "t", "type": "quantitative", "scale": {"domain": [0, 9.8], "nice": false, "zero": false}, "axis": {"values": [0,1,2,3,4,5,6,7,8,9], "labelExpr": "'Y' + (datum.value + 1)", "title": "Lead time (year)", "titlePadding": 2, "grid": true}},
        "y": {"field": "v", "type": "quantitative", "title": "Arctic cap TAS (K)", "scale": {"domain": [-2, 1], "nice": false, "zero": false}, "axis": {"values": [-2,-1.5,-1,-0.5,0,0.5,1], "labelExpr": "datum.value + ''", "titleX": -30, "titleBaseline": "middle", "grid": true}}
      },
      "layer": [
        {"data": {"name": "C"}, "mark": {"type": "area", "color": "#e3e3e3", "clip": true}, "encoding": {"y": {"field": "lo", "type": "quantitative", "title": "Arctic cap TAS (K)"}, "y2": {"field": "hi"}}},
        {"data": {"name": "C"}, "mark": {"type": "line", "color": "#8a8a8a", "strokeWidth": 1, "strokeDash": [1.5, 1.5], "clip": true}, "encoding": {"y": {"field": "d", "type": "quantitative", "title": "Arctic cap TAS (K)"}}},
        {"data": {"values": [{"t": 0, "v": 0}, {"t": 9.8, "v": 0}]}, "mark": {"type": "line", "color": "#555555", "strokeWidth": 1}},
        {"data": {"name": "C"}, "transform": [{"fold": ["FREE", "AI0", "AI1", "AI2"], "as": ["s", "v"]}], "mark": {"type": "line", "strokeWidth": 1.4, "clip": true}, "encoding": {"color": {"field": "s", "type": "nominal", "scale": {"domain": ["FREE", "AI0", "AI1", "AI2", "FREE1(dashed)"], "range": ["#6e6e6e", "#2ee82e", "#ff5cad", "#2828ee", "#555555"]}, "legend": null}}},
        {"data": {"values": [{"t":0.46,"v":-0.35},{"t":1.46,"v":-0.39},{"t":2.46,"v":-0.29},{"t":3.46,"v":-0.24},{"t":4.46,"v":-0.33},{"t":5.46,"v":-0.33},{"t":6.46,"v":-0.45},{"t":7.46,"v":-0.5},{"t":8.46,"v":-0.55},{"t":9.46,"v":-0.52}]}, "mark": {"type": "circle", "size": 48, "color": "#2b2bee", "opacity": 1}},
        {"data": {"values": [{"t": 1.02, "v": 0.77, "txt": "Bias=0.1"}]}, "mark": {"type": "text", "align": "left", "baseline": "middle", "font": "Liberation Sans", "fontSize": 9.5, "color": "#333333"}, "encoding": {"text": {"field": "txt"}}},
        {"data": {"values": [{"t": 1.02, "v": -1.67, "txt": "Bias=-0.7"}]}, "mark": {"type": "text", "align": "left", "baseline": "middle", "font": "Liberation Sans", "fontSize": 9.5, "color": "#999999"}, "encoding": {"text": {"field": "txt"}}}
      ]
    }
  ],
  "spacing": 33,
  "bounds": "flush"
}
